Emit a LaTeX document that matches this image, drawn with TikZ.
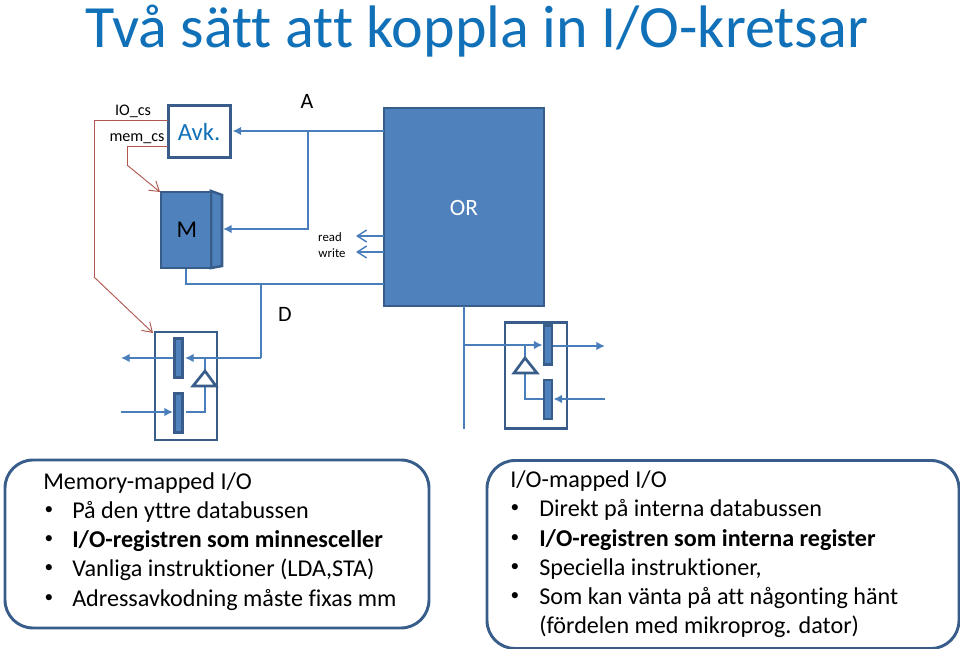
\documentclass[tikz,border=0pt]{standalone}
\usepackage{fontspec}
\setmainfont{Carlito}[Ligatures={TeX,NoCommon}]
\usetikzlibrary{arrows.meta}
\definecolor{titleblue}{HTML}{1070B8}
\definecolor{fillblue}{HTML}{4F81BD}
\definecolor{edgeblue}{HTML}{385D8A}
\definecolor{wireblue}{HTML}{4A7EBB}
\definecolor{redwire}{HTML}{B0584F}
\tikzset{
  x=0.75pt,y=-0.75pt,
  wire/.style={wireblue,line width=2pt},
  solidarrow/.style={wire,-{Latex[length=6.5pt,width=6.5pt]}},
  openarrow/.style={wireblue,line width=1.1pt,-{Straight Barb[length=7pt,width=9pt]}},
  redarrow/.style={redwire,line width=0.7pt,-{Straight Barb[length=7pt,width=9pt]}},
  redline/.style={redwire,line width=0.7pt},
  solidblock/.style={draw=edgeblue,fill=fillblue,line width=1.9pt,inner sep=0pt},
  openblock/.style={draw=edgeblue,fill=white,line width=2.2pt,inner sep=0pt},
  bar/.style={solidblock,minimum width=6.2pt,minimum height=29.5pt},
  tri/.style={draw=edgeblue,fill=white,line width=2pt,line join=miter},
  lab/.style={inner sep=0pt,anchor=base},
  small/.style={lab,font=\fontsize{9.6pt}{11pt}\selectfont},
  mid/.style={lab,font=\fontsize{16.5pt}{18pt}\selectfont},
  cs/.style={lab,font=\fontsize{12.1pt}{14pt}\selectfont},
  body/.style={inner sep=0pt,anchor=base west,font=\fontsize{18.1pt}{20pt}\selectfont},
  dot/.style={inner sep=0pt,anchor=center,font=\fontsize{13pt}{14pt}\selectfont},
  card/.style={draw=edgeblue,fill=white,line width=2.2pt,rounded corners=21pt,inner sep=0pt}
}
\begin{document}
\begin{tikzpicture}
\useasboundingbox (0,0) rectangle (960,649);
\node[inner sep=0pt,anchor=base,text=titleblue,font=\fontsize{45pt}{48pt}\selectfont] (title) at (477,47.5) {Två sätt att koppla in I/O-kretsar};

% main blocks
\node[solidblock,minimum width=120pt,minimum height=148.5pt] (or) at (464,207) {};
\node[text=white,font=\fontsize{17.5pt}{19pt}\selectfont,inner sep=0pt] (orlabel) at (464,208) {OR};
\node[openblock,minimum width=46pt,minimum height=39.5pt] (avk) at (199.5,131.5) {};
\node[text=titleblue,font=\fontsize{18.5pt}{20pt}\selectfont,inner sep=0pt] (avklabel) at (199,132) {Avk.};
\path[solidblock] (211,191) -- (222,195) -- (222,266) -- (211,268) -- cycle;
\node[solidblock,minimum width=37.5pt,minimum height=57pt] (m) at (186,230) {};
\node[font=\fontsize{18pt}{20pt}\selectfont,inner sep=0pt] (mlabel) at (187,230) {M};

\node[mid] (alabel) at (307,109) {A};
\node[mid] (dlabel) at (285,321) {D};
\node[small] (read) at (330,241) {read};
\node[small] (write) at (332,257) {write};
\node[cs] (iocs) at (133,116) {IO\_cs};
\node[cs] (memcs) at (137,142) {mem\_cs};

% coordinates
\coordinate (aor) at (384,131);
\coordinate (aj) at (308,131);
\coordinate (am) at (308,229);
\coordinate (atipa) at (232.5,131);
\coordinate (atipm) at (223,229);
\coordinate (rs) at (384,236);
\coordinate (rt) at (356,236);
\coordinate (ws) at (384,252);
\coordinate (wt) at (356,252);
\coordinate (mb) at (186,284);
\coordinate (ob) at (384,284);
\coordinate (dj) at (261,284);
\coordinate (dc) at (261,358);

% left I/O
\node[openblock,minimum width=46.5pt,minimum height=81pt] (lbox) at (186,386) {};
\node[bar] (lbar1) at (178.5,358) {};
\node[bar] (lbar2) at (178.5,413) {};
\coordinate (ltop) at (205,358);
\coordinate (lapex) at (205,371);
\coordinate (lbase) at (205,386);
\coordinate (lturn) at (205,412);
\coordinate (lout) at (121,358);
\coordinate (lin) at (121,412);

% right I/O
\node[openblock,minimum width=46.5pt,minimum height=80pt] (rbox) at (536,375.5) {};
\node[bar] (rbar1) at (548,345) {};
\node[bar] (rbar2) at (548,399.5) {};
\coordinate (bustop) at (464,306);
\coordinate (busbot) at (464,429);
\coordinate (busj) at (464,345);
\coordinate (rtop) at (525,345);
\coordinate (rapex) at (525,358);
\coordinate (rbase) at (525,373);
\coordinate (rturn) at (525,399);
\coordinate (rout) at (605,346);
\coordinate (rin) at (605,399);

% connectors
\draw[solidarrow] (aor) -- (atipa);
\draw[solidarrow,line join=miter] (aj) -- (am) -- (atipm);
\draw[openarrow] (rs) -- (rt);
\draw[openarrow] (ws) -- (wt);
\draw[wire] (m.south) -- (mb) -- (ob);
\draw[wire] (dj) -- (dc);
\draw[solidarrow] (dc) -- (185,358);
\draw[solidarrow] (lbar1.west) -- (lout);
\draw[solidarrow] (lin) -- (lbar2.west |- lin);
\draw[wire] (ltop) -- (lapex);
\draw[wire] (186,412) -- (lturn) -- (lbase);
\draw[wire] (bustop) -- (busbot);
\draw[solidarrow] (busj) -- (rbar1.west |- busj);
\draw[solidarrow] (rbar1.east |- rout) -- (rout);
\draw[solidarrow] (rin) -- (rbar2.east |- rin);
\draw[wire] (rtop) -- (rapex);
\draw[wire] (rbar2.west |- rturn) -- (rturn) -- (rbase);

\draw[tri] (lapex) -- (216,386) -- (193,386) -- cycle;
\draw[tri] (rapex) -- (537,373) -- (514,373) -- cycle;

\coordinate (ioout) at (168,120);
\coordinate (iocorner) at (94,120);
\coordinate (iodown) at (94,277);
\coordinate (memout) at (168,146);
\coordinate (memcorner) at (127,146);
\coordinate (memdown) at (127,165);
\draw[redline] (ioout) -- (iocorner) -- (iodown);
\draw[redarrow] (iodown) -- (153,333);
\draw[redline] (memout) -- (memcorner) -- (memdown);
\draw[redarrow] (memdown) -- (160,192);

% text cards
\node[card,minimum width=318pt,minimum height=126pt] (leftcard) at (217,544) {};
\node[card,minimum width=354pt,minimum height=141pt] (rightcard) at (723,554.5) {};

\node[body] (l0) at (43,489) {Memory-mapped I/O};
\node[dot] (l1b) at (49,511) {•}; \node[body] (l1) at (72,518.5) {På den yttre databussen};
\node[dot] (l2b) at (49,540) {•}; \node[body] (l2) at (72,547.5) {\textbf{I/O-registren som minnesceller}};
\node[dot] (l3b) at (49,569) {•}; \node[body] (l3) at (72,576.5) {Vanliga instruktioner (LDA,STA)};
\node[dot] (l4b) at (49,598.5) {•}; \node[body] (l4) at (72,606) {Adressavkodning måste fixas mm};

\node[body] (r0) at (510,487) {I/O-mapped I/O};
\node[dot] (r1b) at (515,509) {•}; \node[body] (r1) at (539,516.5) {Direkt på interna databussen};
\node[dot] (r2b) at (515,538.5) {•}; \node[body] (r2) at (539,546) {\textbf{I/O-registren som interna register}};
\node[dot] (r3b) at (515,567.5) {•}; \node[body] (r3) at (539,575) {Speciella instruktioner,};
\node[dot] (r4b) at (515,596.5) {•}; \node[body] (r4) at (539,604) {Som kan vänta på att någonting hänt};
\node[body] (r5) at (539,633.5) {(fördelen med mikroprog. dator)};
\end{tikzpicture}
\end{document}
